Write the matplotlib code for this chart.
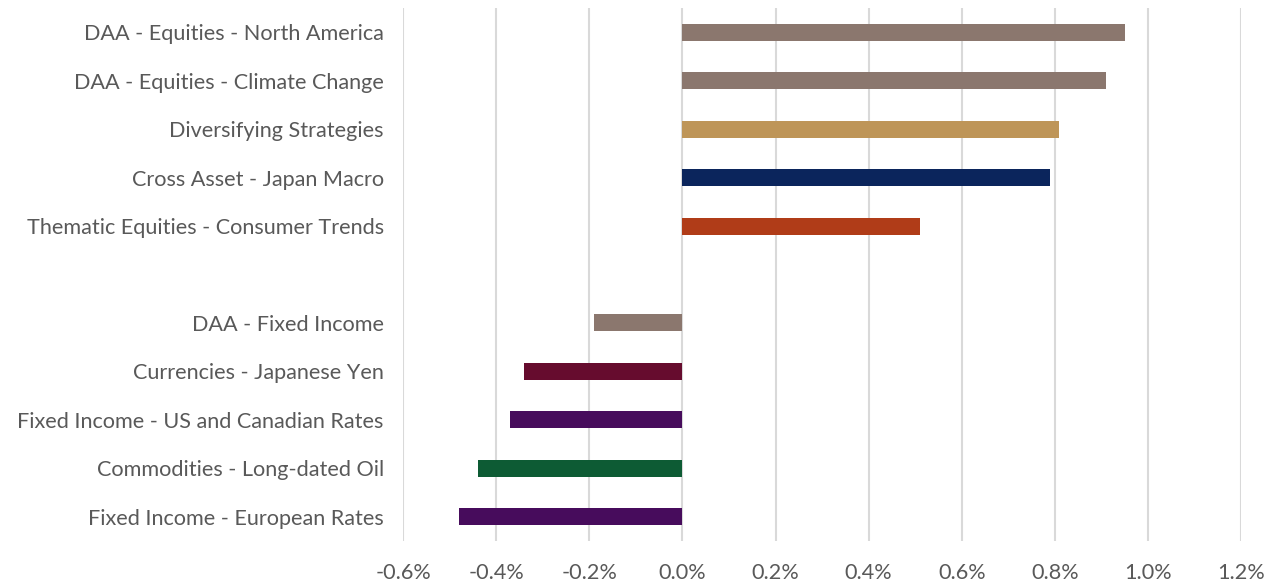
import matplotlib
matplotlib.use("Agg")
import matplotlib.pyplot as plt
from matplotlib.ticker import FuncFormatter

plt.rcParams['font.family'] = ['Lato', 'DejaVu Sans']

# Contributions to return (%), top to bottom; empty string marks the gap row
labels = [
    "DAA - Equities - North America",
    "DAA - Equities - Climate Change",
    "Diversifying Strategies",
    "Cross Asset - Japan Macro",
    "Thematic Equities - Consumer Trends",
    "",
    "DAA - Fixed Income",
    "Currencies - Japanese Yen",
    "Fixed Income - US and Canadian Rates",
    "Commodities - Long-dated Oil",
    "Fixed Income - European Rates",
]
values = [0.95, 0.91, 0.81, 0.79, 0.51, None, -0.19, -0.34, -0.37, -0.44, -0.48]
colors = ["#8B776E", "#8B776E", "#BE9558", "#0B255C", "#B03C18", None,
          "#8B776E", "#660C2E", "#470C5C", "#0D5B34", "#470C5C"]

xticks = [-0.6, -0.4, -0.2, 0.0, 0.2, 0.4, 0.6, 0.8, 1.0, 1.2]

fig = plt.figure(figsize=(12.8, 5.87), dpi=100)
ax = fig.add_axes([0.315, 0.0784, 0.6545, 0.908])

for i, (v, c) in enumerate(zip(values, colors)):
    if v is None:
        continue
    ax.barh(i, v, height=0.35, color=c, zorder=3)

ax.set_yticks(range(len(labels)))
ax.set_yticklabels(labels)
ax.set_ylim(len(labels) - 0.5, -0.5)

ax.set_xlim(xticks[0], xticks[-1])
ax.set_xticks(xticks)
ax.xaxis.set_major_formatter(FuncFormatter(lambda x, _: f"{x:.1f}%"))

ax.grid(axis='x', color='#D9D9D9', linewidth=1.5, zorder=0)
ax.grid(axis='y', visible=False)
for s in ax.spines.values():
    s.set_visible(False)

ax.tick_params(axis='both', length=0, labelsize=15.6, labelcolor='#595959')
ax.tick_params(axis='y', pad=14)
ax.tick_params(axis='x', pad=16)

fig.savefig("out.png", dpi=100, facecolor='white')
